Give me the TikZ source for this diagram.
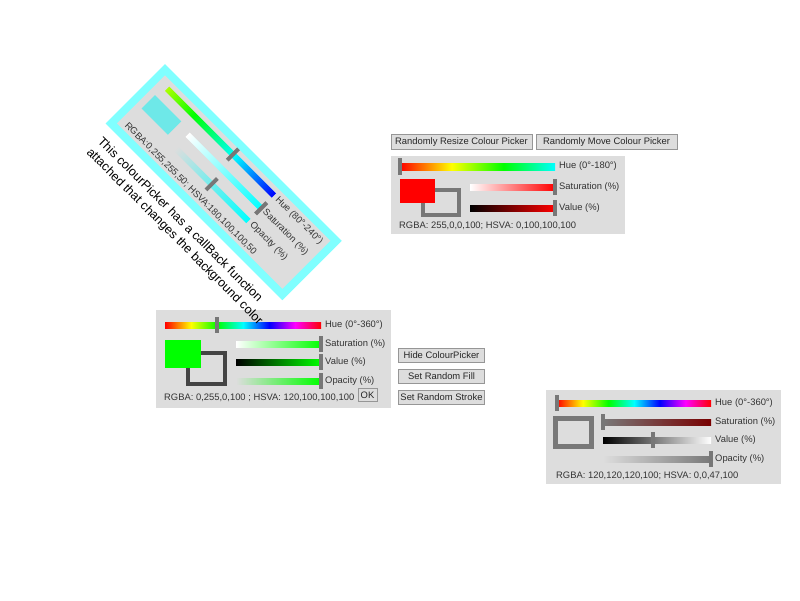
\documentclass[tikz,border=0pt]{standalone}
\usepackage{fontspec}
\newfontfamily\uifont{Liberation Sans}
\definecolor{panelgray}{RGB}{221,221,221}
\definecolor{knobgray}{RGB}{119,119,119}
\definecolor{txtgray}{RGB}{51,51,51}
\definecolor{btnedge}{RGB}{150,150,150}
\definecolor{cyanedge}{RGB}{128,255,255}
\definecolor{sqcyan}{RGB}{110,232,232}
\definecolor{strokedark}{RGB}{68,68,68}
\definecolor{midgray}{RGB}{120,120,120}
\definecolor{darkred}{RGB}{120,0,0}
\definecolor{hueeighty}{RGB}{170,255,0}
\pgfdeclarehorizontalshading{huefull}{100bp}{color(0bp)=(red); color(25bp)=(red); color(33.33bp)=(yellow); color(41.67bp)=(green); color(50bp)=(cyan); color(58.33bp)=(blue); color(66.67bp)=(magenta); color(75bp)=(red); color(100bp)=(red)}
\pgfdeclarehorizontalshading{huehalf}{100bp}{color(0bp)=(red); color(25bp)=(red); color(41.67bp)=(yellow); color(58.33bp)=(green); color(75bp)=(cyan); color(100bp)=(cyan)}
\pgfdeclarehorizontalshading{hueband}{100bp}{color(0bp)=(hueeighty); color(25bp)=(hueeighty); color(37.5bp)=(green); color(56.25bp)=(cyan); color(75bp)=(blue); color(100bp)=(blue)}
\tikzset{
  panel/.style={fill=panelgray},
  knob/.style={draw=knobgray, line width=4pt},
  lbl/.style={font=\uifont\fontsize{9.4}{11}\selectfont, text=txtgray, anchor=west, inner sep=0pt},
  btn/.style={font=\uifont\fontsize{9.4}{11}\selectfont, fill=panelgray, draw=btnedge, line width=0.8pt, inner sep=0pt, minimum height=14pt, text=black!85},
  capt/.style={font=\uifont\fontsize{12.5}{15.5}\selectfont, anchor=north west, align=left, inner sep=0pt}
}
\begin{document}
\begin{tikzpicture}[x=1pt,y=-1pt]
\useasboundingbox (0,0) rectangle (800,600);
\node[btn, minimum width=141pt, minimum height=15.5pt] (resizebtn) at (461.5,142) {Randomly Resize Colour Picker};
\node[btn, minimum width=141pt, minimum height=15.5pt] (movebtn) at (606.5,142) {Randomly Move Colour Picker};
\fill[panel] (391,156) rectangle (625,234);
\shade[shading=huehalf] (400,163) rectangle (555,170);
\draw[knob] (400,158) -- (400,175);
\node[lbl] (redhue) at (559,166.5) {Hue (0°-180°)};
\draw[knobgray, line width=4pt] (423,190) rectangle (459,215);
\fill[red] (400,179) rectangle (435,203);
\shade[left color=white, right color=red] (470,184) rectangle (555,190);
\draw[knob] (555,179) -- (555,195);
\node[lbl] (redsat) at (559,187) {Saturation (\%)};
\shade[left color=black, right color=red] (470,205) rectangle (555,211);
\draw[knob] (555,200) -- (555,216);
\node[lbl] (redval) at (559,208) {Value (\%)};
\node[lbl] (redrgba) at (399,226) {RGBA: 255,0,0,100; HSVA: 0,100,100,100};
\fill[panel] (156,310) rectangle (391,408);
\shade[shading=huefull] (165,322) rectangle (321,328);
\draw[knob] (217,317) -- (217,333);
\node[lbl] (greenhue) at (325,325) {Hue (0°-360°)};
\draw[strokedark, line width=4.5pt] (188,353) rectangle (225,384);
\fill[green] (165,340) rectangle (201,368);
\shade[left color=white, right color=green] (236,341) rectangle (321,347);
\draw[knob] (321,336) -- (321,352);
\node[lbl] (greensat) at (325,344) {Saturation (\%)};
\shade[left color=black, right color=green] (236,359) rectangle (321,365);
\draw[knob] (321,354) -- (321,370);
\node[lbl] (greenval) at (325,362) {Value (\%)};
\shade[left color=panelgray, right color=green] (236,378) rectangle (321,384);
\draw[knob] (321,373) -- (321,389);
\node[lbl] (greenopa) at (325,381) {Opacity (\%)};
\node[lbl] (greenrgba) at (164,398) {RGBA: 0,255,0,100 ; HSVA: 120,100,100,100};
\node[btn, minimum width=19pt, minimum height=13pt] (okbtn) at (367.5,395) {OK};
\node[btn, minimum width=86pt] (hidebtn) at (441.5,355) {Hide ColourPicker};
\node[btn, minimum width=86pt] (fillbtn) at (441.5,376) {Set Random Fill};
\node[btn, minimum width=86pt] (strokebtn) at (441.5,397) {Set Random Stroke};
\fill[panel] (546,390) rectangle (781,484);
\shade[shading=huefull] (557,400) rectangle (711,406);
\draw[knob] (557,395) -- (557,411);
\node[lbl] (grayhue) at (715,403) {Hue (0°-360°)};
\draw[midgray, line width=5pt] (555.5,418.5) rectangle (591.5,446.5);
\shade[left color=midgray, right color=darkred] (603,419) rectangle (711,425);
\draw[knob] (603,414) -- (603,430);
\node[lbl] (graysat) at (715,422) {Saturation (\%)};
\shade[left color=black, right color=white] (603,437) rectangle (711,443);
\draw[knob] (653,432) -- (653,448);
\node[lbl] (grayval) at (715,440) {Value (\%)};
\shade[left color=panelgray, right color=midgray] (603,456) rectangle (711,462);
\draw[knob] (711,451) -- (711,467);
\node[lbl] (grayopa) at (715,459) {Opacity (\%)};
\node[lbl] (grayrgba) at (556,476) {RGBA: 120,120,120,100; HSVA: 0,0,47,100};
\begin{scope}[transform canvas={shift={(165,64)}, rotate=-45}]
\fill[cyanedge] (0,0) rectangle (250,84);
\fill[panel] (8,8) rectangle (242,76);
\shade[shading=hueband] (19,13) rectangle (170,19);
\draw[knob] (112,8) -- (112,24);
\node[lbl] (cyanhue) at (174,16) {Hue (80°-240°)};
\fill[sqcyan] (15,29) rectangle (52,48);
\shade[left color=white, right color=cyan] (66,31) rectangle (170,37);
\draw[knob] (170,26) -- (170,42);
\node[lbl] (cyansat) at (174,34) {Saturation (\%)};
\shade[left color=panelgray, right color=cyan] (67,49) rectangle (170,55);
\draw[knob] (118,44) -- (118,60);
\node[lbl] (cyanopa) at (174,52) {Opacity (\%)};
\node[lbl] (cyanrgba) at (15,70) {RGBA:0,255,255,50; HSVA:180,100,100,50};
\node[capt] (callbacknote) at (7,94) {This colourPicker has a callBack function\\attached that changes the background color};
\end{scope}
\end{tikzpicture}
\end{document}
